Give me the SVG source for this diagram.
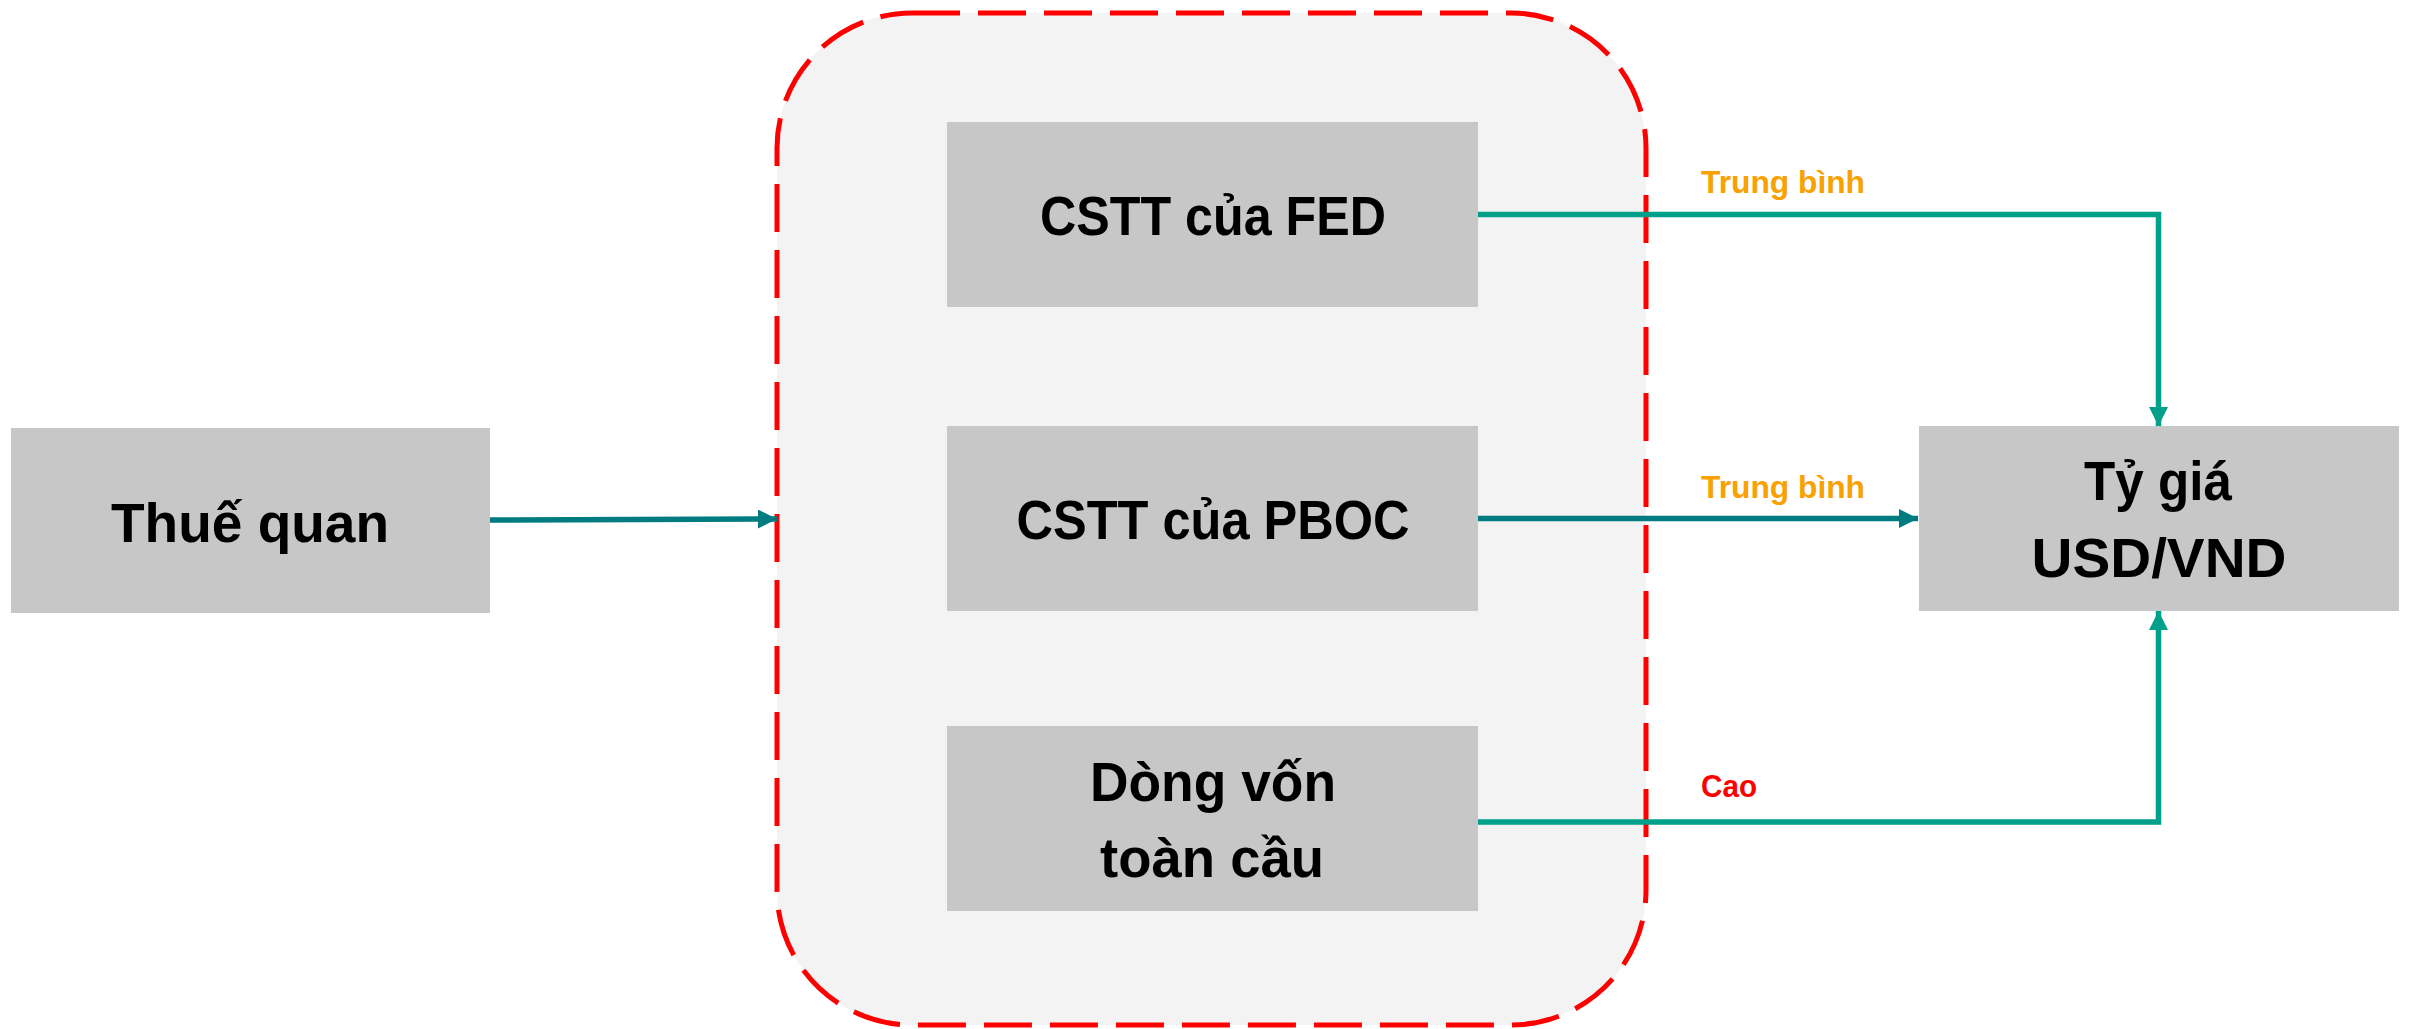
<svg xmlns="http://www.w3.org/2000/svg" width="2413" height="1029" viewBox="0 0 2413 1029">
<style>
.box{fill:#C7C7C7}
.lbl{font-family:"Liberation Sans",Arial,sans-serif;font-weight:bold;font-size:56px;fill:#000;text-anchor:middle}
.edge{font-family:"Liberation Sans",Arial,sans-serif;font-weight:bold;font-size:32px}
.dk{stroke:#007B80;stroke-width:5.5;fill:none}
.lt{stroke:#00A08A;stroke-width:5.5;fill:none}
</style>
<defs>
<marker id="ahD" markerUnits="userSpaceOnUse" markerWidth="19" markerHeight="19" refX="19" refY="9.5" orient="auto"><path d="M0,0 L19,9.5 L0,19 z" fill="#007B80"/></marker>
<marker id="ahL" markerUnits="userSpaceOnUse" markerWidth="19" markerHeight="19" refX="19" refY="9.5" orient="auto"><path d="M0,0 L19,9.5 L0,19 z" fill="#00A08A"/></marker>
</defs>
<rect width="2413" height="1029" fill="#FFFFFF"/>
<g id="container">
<rect x="777" y="13" width="869" height="1012" rx="135" ry="135" fill="#F3F3F3" stroke="#FF0000" stroke-width="5" stroke-dasharray="48 18"/>
</g>
<g id="thue-quan">
<rect class="box" x="11" y="428" width="479" height="185"/>
<text class="lbl" x="250" y="542" textLength="278" lengthAdjust="spacingAndGlyphs">Thuế quan</text>
</g>
<g id="cstt-fed">
<rect class="box" x="947" y="122" width="531" height="185"/>
<text class="lbl" x="1213" y="235" textLength="346" lengthAdjust="spacingAndGlyphs">CSTT của FED</text>
</g>
<g id="cstt-pboc">
<rect class="box" x="947" y="426" width="531" height="185"/>
<text class="lbl" x="1213" y="539" textLength="393" lengthAdjust="spacingAndGlyphs">CSTT của PBOC</text>
</g>
<g id="dong-von">
<rect class="box" x="947" y="726" width="531" height="185"/>
<text class="lbl" x="1213" y="801" textLength="246" lengthAdjust="spacingAndGlyphs">Dòng vốn</text>
<text class="lbl" x="1212" y="877" textLength="224" lengthAdjust="spacingAndGlyphs">toàn cầu</text>
</g>
<g id="ty-gia">
<rect class="box" x="1919" y="426" width="480" height="185"/>
<text class="lbl" x="2158" y="500" textLength="148" lengthAdjust="spacingAndGlyphs">Tỷ giá</text>
<text class="lbl" x="2159" y="577" textLength="255" lengthAdjust="spacingAndGlyphs">USD/VND</text>
</g>
<g id="connectors">
<path class="dk" d="M490,520 L777,519" marker-end="url(#ahD)"/>
<path class="lt" d="M1478,214.5 L2158.5,214.5 L2158.5,426" marker-end="url(#ahL)"/>
<path class="dk" d="M1478,518.5 L1918,518.5" marker-end="url(#ahD)"/>
<path class="lt" d="M1478,822 L2158.5,822 L2158.5,611" marker-end="url(#ahL)"/>
<text class="edge" x="1701" y="193" fill="#F9A100" textLength="164" lengthAdjust="spacingAndGlyphs">Trung bình</text>
<text class="edge" x="1701" y="498" fill="#F9A100" textLength="164" lengthAdjust="spacingAndGlyphs">Trung bình</text>
<text class="edge" x="1701" y="797" fill="#FF0000" textLength="56" lengthAdjust="spacingAndGlyphs">Cao</text>
</g>
</svg>
